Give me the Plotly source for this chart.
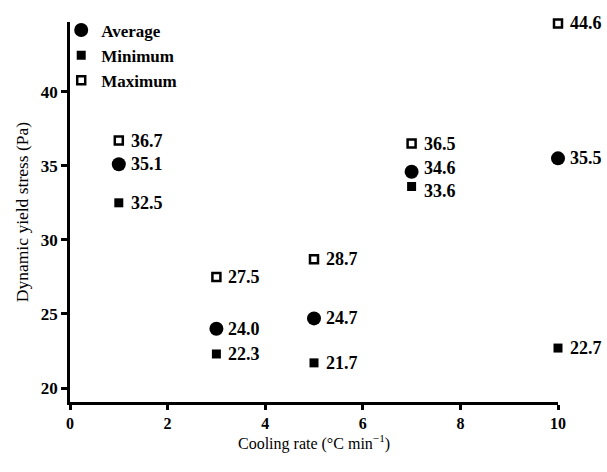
import plotly.graph_objects as go

cooling_rate = [1, 3, 5, 7, 10]
average = [35.1, 24.0, 24.7, 34.6, 35.5]
minimum = [32.5, 22.3, 21.7, 33.6, 22.7]
maximum = [36.7, 27.5, 28.7, 36.5, 44.6]

font_family = "Liberation Serif, Times New Roman, serif"
label_font = dict(family=font_family, size=18, color="black", weight="bold")

series = [
    ("Average", average, dict(symbol="circle", size=14, color="black")),
    ("Minimum", minimum, dict(symbol="square", size=9, color="black")),
    ("Maximum", maximum, dict(symbol="square-open", size=8, color="black",
                              line=dict(width=2.5, color="black"))),
]

# small vertical nudges (pixels) for the two labels that sit close together at x = 7
label_yshift = {("Average", 3): 4, ("Minimum", 3): -4}

fig = go.Figure()
for name, vals, marker in series:
    fig.add_trace(go.Scatter(
        x=cooling_rate, y=vals, mode="markers", name=name,
        marker=marker, cliponaxis=False,
    ))
    for i, (xv, yv) in enumerate(zip(cooling_rate, vals)):
        fig.add_annotation(
            x=xv, y=yv, xref="x", yref="y", text="%.1f" % yv,
            showarrow=False, xanchor="left", yanchor="middle",
            xshift=10, yshift=label_yshift.get((name, i), 0),
            font=label_font,
        )

fig.add_annotation(
    text="Cooling rate (°C min<sup>−1</sup>)", xref="paper", yref="paper",
    x=0.5, y=-0.106, xanchor="center", yanchor="middle", showarrow=False,
    font=dict(family=font_family, size=16, color="black"),
)

fig.update_layout(
    width=607, height=472,
    margin=dict(l=70, r=49, t=20, b=70),
    plot_bgcolor="white", paper_bgcolor="white",
    font=dict(family=font_family, color="black"),
    showlegend=True,
    legend=dict(x=-0.018, y=1.025, xanchor="left", yanchor="top",
                font=dict(family=font_family, size=17, color="black", weight="bold"),
                bgcolor="rgba(0,0,0,0)", itemsizing="trace", tracegroupgap=0,
                itemwidth=30),
    xaxis=dict(
        range=[0, 10], tickvals=[0, 2, 4, 6, 8, 10],
        showline=True, linecolor="black", linewidth=2.5, showgrid=False, zeroline=False,
        ticks="outside", ticklen=5, tickwidth=2.5, tickcolor="black",
        tickfont=dict(family=font_family, size=16, color="black", weight="bold"),
    ),
    yaxis=dict(
        range=[19.06, 44.7], tickvals=[20, 25, 30, 35, 40],
        showline=True, linecolor="black", linewidth=2.5, showgrid=False, zeroline=False,
        ticks="outside", ticklen=6, tickwidth=2.5, tickcolor="black",
        tickfont=dict(family=font_family, size=17, color="black", weight="bold"),
        title=dict(text="Dynamic yield stress (Pa)",
                   font=dict(family=font_family, size=17.5, color="black"), standoff=8),
    ),
)

fig.write_html("out.html")
